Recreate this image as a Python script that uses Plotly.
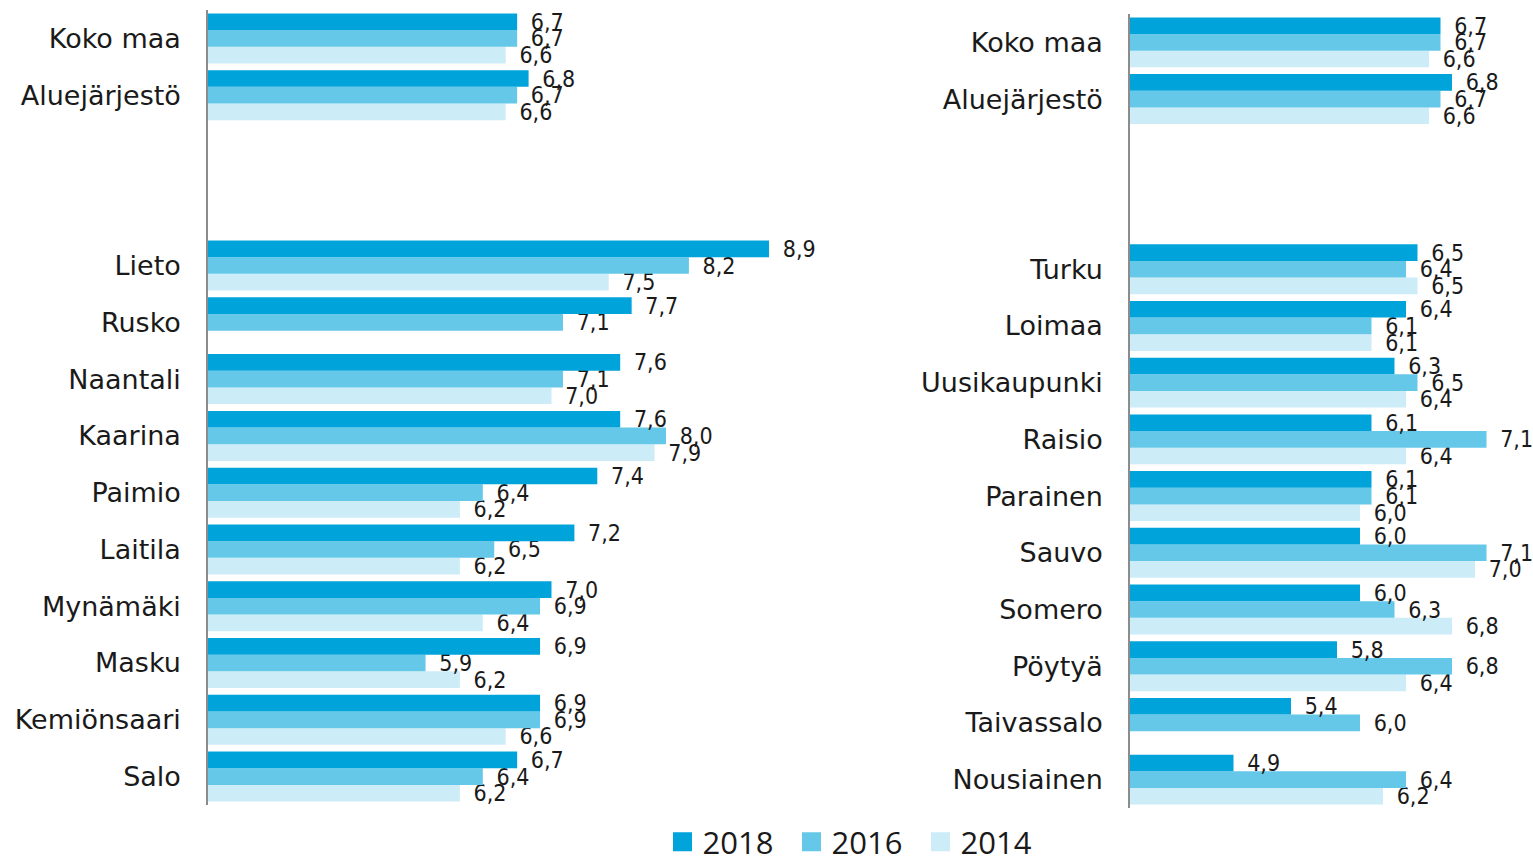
import plotly.graph_objects as go

# ---------------- data ----------------
years = ["2018", "2016", "2014"]
colors = ["#00A3DA", "#65C8E8", "#CCECF7"]

left_categories = ["Koko maa", "Aluejärjestö", " ", "  ", "Lieto", "Rusko", "Naantali",
                   "Kaarina", "Paimio", "Laitila", "Mynämäki", "Masku", "Kemiönsaari", "Salo"]
left_2018 = [6.7, 6.8, None, None, 8.9, 7.7, 7.6, 7.6, 7.4, 7.2, 7.0, 6.9, 6.9, 6.7]
left_2016 = [6.7, 6.7, None, None, 8.2, 7.1, 7.1, 8.0, 6.4, 6.5, 6.9, 5.9, 6.9, 6.4]
left_2014 = [6.6, 6.6, None, None, 7.5, None, 7.0, 7.9, 6.2, 6.2, 6.4, 6.2, 6.6, 6.2]

right_categories = ["Koko maa", "Aluejärjestö", " ", "  ", "Turku", "Loimaa", "Uusikaupunki",
                    "Raisio", "Parainen", "Sauvo", "Somero", "Pöytyä", "Taivassalo", "Nousiainen"]
right_2018 = [6.7, 6.8, None, None, 6.5, 6.4, 6.3, 6.1, 6.1, 6.0, 6.0, 5.8, 5.4, 4.9]
right_2016 = [6.7, 6.7, None, None, 6.4, 6.1, 6.5, 7.1, 6.1, 7.1, 6.3, 6.8, 6.0, 6.4]
right_2014 = [6.6, 6.6, None, None, 6.5, 6.1, 6.4, 6.4, 6.0, 7.0, 6.8, 6.4, None, 6.2]

axis_min = 4.0

# ---------------- layout geometry ----------------
W, H = 1533, 859
L_X0, L_X1, L_SCALE = 208, 850, 114.5
R_X0, R_X1, R_SCALE = 1130, 1533, 115.0
L_Y0, L_Y1 = 10, 805
R_Y0, R_Y1 = 14, 808

LABEL_FONT = dict(family="DejaVu Sans Condensed, DejaVu Sans", size=23, color="#1a1a1a")
CAT_FONT = dict(family="DejaVu Sans, Verdana, sans-serif", size=27, color="#1a1a1a")


def fmt(v):
    return "" if v is None else "\u00a0\u2009" + f"{v:.1f}".replace(".", ",")


fig = go.Figure()

# traces drawn oldest first (bottom of each group) so that value labels stay on top
for cats, series, xa, ya in [
    (left_categories, [left_2018, left_2016, left_2014], "x", "y"),
    (right_categories, [right_2018, right_2016, right_2014], "x2", "y2"),
]:
    for yr, vals, col in reversed(list(zip(years, series, colors))):
        fig.add_trace(go.Bar(
            y=cats, x=vals, orientation="h", name=yr,
            marker=dict(color=col, line=dict(width=0)),
            text=[fmt(v) for v in vals], textposition="outside",
            textfont=LABEL_FONT, constraintext="none", cliponaxis=False,
            xaxis=xa, yaxis=ya, showlegend=False, hoverinfo="x+y+name",
        ))

# legend entries
for yr, col in zip(years, colors):
    fig.add_trace(go.Scatter(
        x=[None], y=[None], mode="markers", name=yr,
        marker=dict(symbol="square", size=16, color=col, line=dict(width=3, color=col)),
        xaxis="x", yaxis="y", showlegend=True,
    ))

fig.update_layout(
    width=W, height=H,
    margin=dict(l=0, r=0, t=0, b=0, autoexpand=False),
    paper_bgcolor="white", plot_bgcolor="white",
    barmode="group", bargap=0.12, bargroupgap=0,
    showlegend=True,
    legend=dict(orientation="h", x=856 / W, xanchor="center", y=(H - 842) / H, yanchor="middle",
                font=dict(family="Open Sans, sans-serif", size=31, color="#1a1a1a"),
                itemsizing="trace", tracegroupgap=0, bgcolor="rgba(0,0,0,0)",
                entrywidth=84, entrywidthmode="pixels"),
    xaxis=dict(domain=[L_X0 / W, L_X1 / W],
               range=[axis_min, axis_min + (L_X1 - L_X0) / L_SCALE],
               visible=False, showgrid=False, zeroline=False, fixedrange=True),
    yaxis=dict(domain=[1 - L_Y1 / H, 1 - L_Y0 / H], anchor="x",
               type="category", categoryorder="array", categoryarray=left_categories[::-1],
               showline=True, linecolor="#8c8c8c", linewidth=1.5,
               showgrid=False, zeroline=False, ticks="", ticklabelstandoff=20,
               tickfont=CAT_FONT, automargin=False),
    xaxis2=dict(domain=[R_X0 / W, R_X1 / W],
                range=[axis_min, axis_min + (R_X1 - R_X0) / R_SCALE],
                visible=False, showgrid=False, zeroline=False, anchor="y2", fixedrange=True),
    yaxis2=dict(domain=[1 - R_Y1 / H, 1 - R_Y0 / H], anchor="x2",
                type="category", categoryorder="array", categoryarray=right_categories[::-1],
                showline=True, linecolor="#8c8c8c", linewidth=1.5,
                showgrid=False, zeroline=False, ticks="", ticklabelstandoff=20,
                tickfont=CAT_FONT, automargin=False),
)

fig.write_html(
    "out.html",
    config={"displayModeBar": False},
    post_script="document.body.style.margin='0';document.body.style.padding='0';"
                "document.documentElement.style.overflow='hidden';",
)
